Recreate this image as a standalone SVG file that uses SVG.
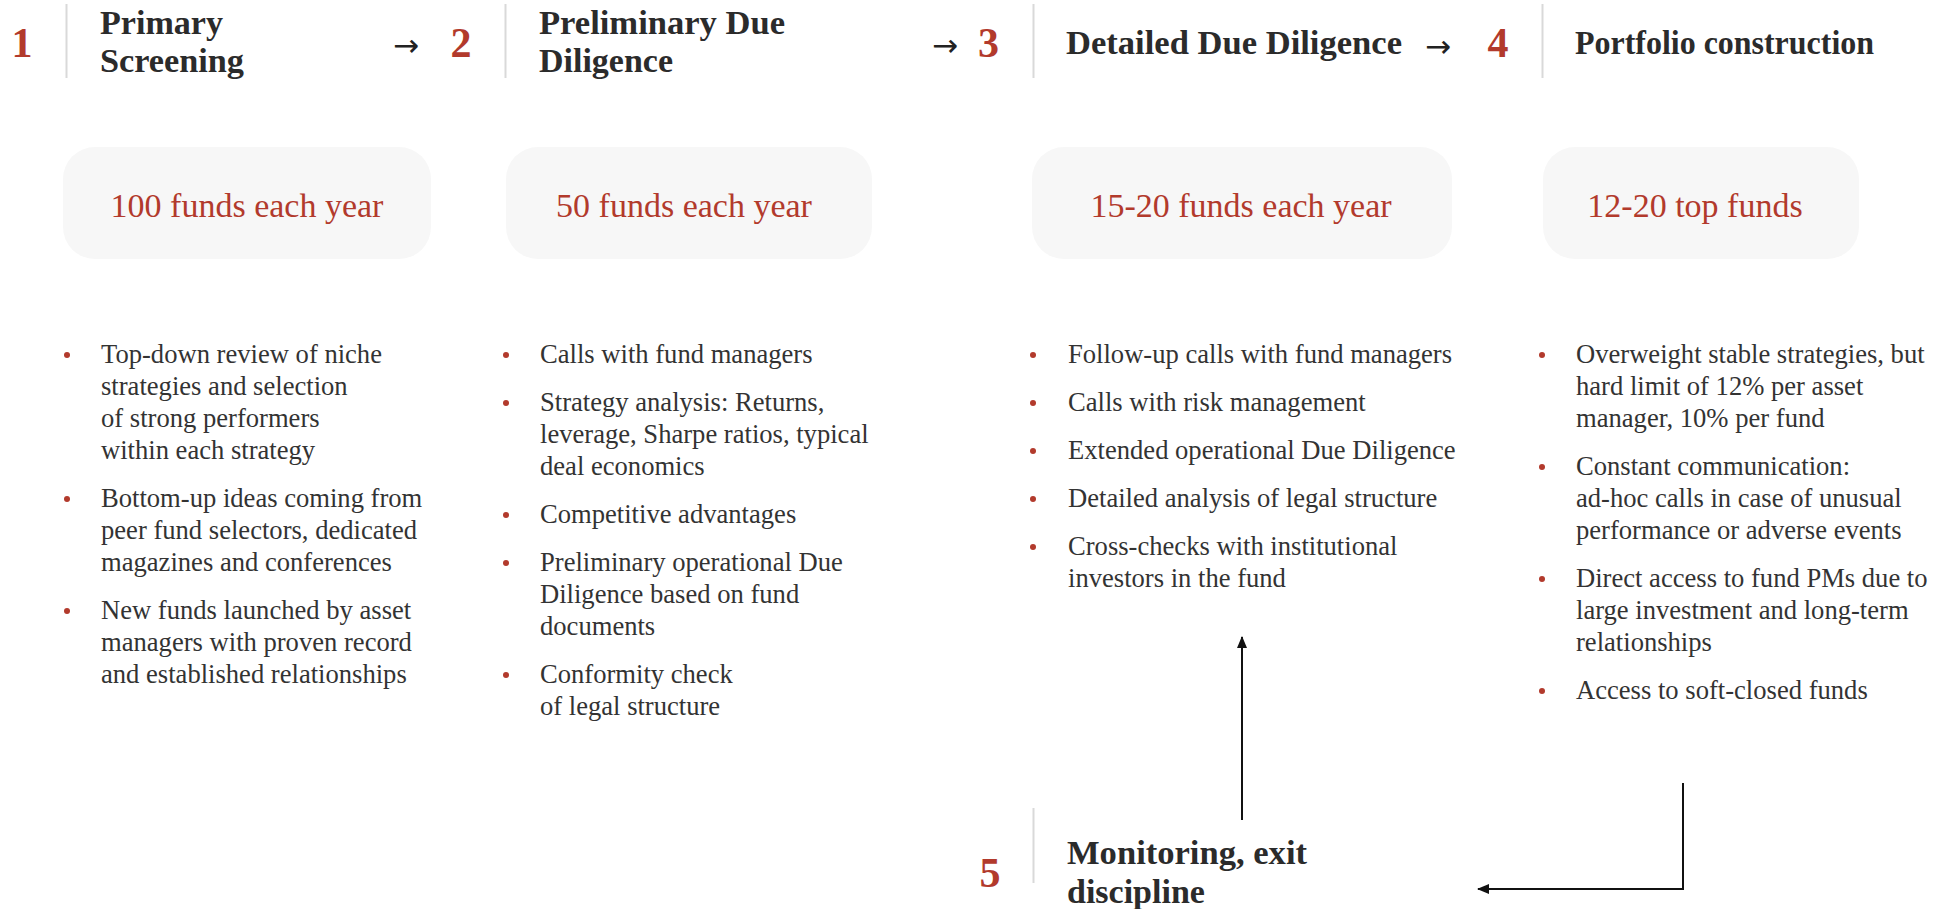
<svg xmlns="http://www.w3.org/2000/svg" width="1951" height="909" viewBox="0 0 1951 909">
<defs>
<style>
.num{font-family:"Liberation Serif","Times New Roman",serif;font-weight:bold;font-size:42px;fill:#b23a2c;text-anchor:middle}
.hd{font-family:"Liberation Serif","Times New Roman",serif;font-weight:bold;font-size:34px;fill:#2b2b2b}
.arr{font-family:"DejaVu Sans",sans-serif;font-size:31px;fill:#222;text-anchor:middle}
.sep{stroke:#d9d9d9;stroke-width:2}
.box{fill:#f7f7f7}
.bt{font-family:"Liberation Serif","Times New Roman",serif;font-size:34px;fill:#b23a2c;text-anchor:middle}
.tx{font-family:"Liberation Serif","Times New Roman",serif;font-size:26.6px;fill:#333}
.dot{fill:#b23a2c}
.con{stroke:#111;stroke-width:2;fill:none}
</style>
<marker id="ah" markerUnits="userSpaceOnUse" markerWidth="12" markerHeight="10" refX="11" refY="5" orient="auto">
<path d="M0,0 L12,5 L0,10 z" fill="#111"/>
</marker>
</defs>
<rect width="1951" height="909" fill="#fff"/>

<g id="step1">
<text class="num" x="22" y="57">1</text>
<line class="sep" x1="66.5" y1="4" x2="66.5" y2="78"/>
<text class="hd" x="100" y="34" textLength="123" lengthAdjust="spacingAndGlyphs">Primary</text>
<text class="hd" x="100" y="72" textLength="144" lengthAdjust="spacingAndGlyphs">Screening</text>
<text class="arr" x="406" y="56">→</text>
</g>
<g id="step2">
<text class="num" x="461" y="57">2</text>
<line class="sep" x1="505.5" y1="4" x2="505.5" y2="78"/>
<text class="hd" x="539" y="34" textLength="246" lengthAdjust="spacingAndGlyphs">Preliminary Due</text>
<text class="hd" x="539" y="72" textLength="134" lengthAdjust="spacingAndGlyphs">Diligence</text>
<text class="arr" x="945" y="56">→</text>
</g>
<g id="step3">
<text class="num" x="988.5" y="57">3</text>
<line class="sep" x1="1033.5" y1="4" x2="1033.5" y2="78"/>
<text class="hd" x="1066" y="54" textLength="336" lengthAdjust="spacingAndGlyphs">Detailed Due Diligence</text>
<text class="arr" x="1438" y="57">→</text>
</g>
<g id="step4">
<text class="num" x="1498" y="57">4</text>
<line class="sep" x1="1542.5" y1="4" x2="1542.5" y2="78"/>
<text class="hd" x="1575" y="54" textLength="299" lengthAdjust="spacingAndGlyphs">Portfolio construction</text>
</g>

<g id="box1">
<rect class="box" x="63" y="147" width="368" height="112" rx="32"/>
<text class="bt" x="247" y="217">100 funds each year</text>
</g>
<g id="box2">
<rect class="box" x="506" y="147" width="366" height="112" rx="32"/>
<text class="bt" x="684" y="217">50 funds each year</text>
</g>
<g id="box3">
<rect class="box" x="1032" y="147" width="420" height="112" rx="32"/>
<text class="bt" x="1241" y="217">15-20 funds each year</text>
</g>
<g id="box4">
<rect class="box" x="1543" y="147" width="316" height="112" rx="32"/>
<text class="bt" x="1695" y="217">12-20 top funds</text>
</g>

<g id="list1">
<circle class="dot" cx="67" cy="355" r="3"/>
<circle class="dot" cx="67" cy="499" r="3"/>
<circle class="dot" cx="67" cy="611" r="3"/>
<text class="tx" x="101" y="363">Top-down review of niche</text>
<text class="tx" x="101" y="395">strategies and selection</text>
<text class="tx" x="101" y="427">of strong performers</text>
<text class="tx" x="101" y="459">within each strategy</text>
<text class="tx" x="101" y="507">Bottom-up ideas coming from</text>
<text class="tx" x="101" y="539">peer fund selectors, dedicated</text>
<text class="tx" x="101" y="571">magazines and conferences</text>
<text class="tx" x="101" y="619">New funds launched by asset</text>
<text class="tx" x="101" y="651">managers with proven record</text>
<text class="tx" x="101" y="683">and established relationships</text>
</g>

<g id="list2">
<circle class="dot" cx="506" cy="355" r="3"/>
<circle class="dot" cx="506" cy="403" r="3"/>
<circle class="dot" cx="506" cy="515" r="3"/>
<circle class="dot" cx="506" cy="563" r="3"/>
<circle class="dot" cx="506" cy="675" r="3"/>
<text class="tx" x="540" y="363">Calls with fund managers</text>
<text class="tx" x="540" y="411">Strategy analysis: Returns,</text>
<text class="tx" x="540" y="443">leverage, Sharpe ratios, typical</text>
<text class="tx" x="540" y="475">deal economics</text>
<text class="tx" x="540" y="523">Competitive advantages</text>
<text class="tx" x="540" y="571">Preliminary operational Due</text>
<text class="tx" x="540" y="603">Diligence based on fund</text>
<text class="tx" x="540" y="635">documents</text>
<text class="tx" x="540" y="683">Conformity check</text>
<text class="tx" x="540" y="715">of legal structure</text>
</g>

<g id="list3">
<circle class="dot" cx="1033" cy="355" r="3"/>
<circle class="dot" cx="1033" cy="403" r="3"/>
<circle class="dot" cx="1033" cy="451" r="3"/>
<circle class="dot" cx="1033" cy="499" r="3"/>
<circle class="dot" cx="1033" cy="547" r="3"/>
<text class="tx" x="1068" y="363">Follow-up calls with fund managers</text>
<text class="tx" x="1068" y="411">Calls with risk management</text>
<text class="tx" x="1068" y="459">Extended operational Due Diligence</text>
<text class="tx" x="1068" y="507">Detailed analysis of legal structure</text>
<text class="tx" x="1068" y="555">Cross-checks with institutional</text>
<text class="tx" x="1068" y="587">investors in the fund</text>
</g>

<g id="list4">
<circle class="dot" cx="1542" cy="355" r="3"/>
<circle class="dot" cx="1542" cy="467" r="3"/>
<circle class="dot" cx="1542" cy="579" r="3"/>
<circle class="dot" cx="1542" cy="691" r="3"/>
<text class="tx" x="1576" y="363">Overweight stable strategies, but</text>
<text class="tx" x="1576" y="395">hard limit of 12% per asset</text>
<text class="tx" x="1576" y="427">manager, 10% per fund</text>
<text class="tx" x="1576" y="475">Constant communication:</text>
<text class="tx" x="1576" y="507">ad-hoc calls in case of unusual</text>
<text class="tx" x="1576" y="539">performance or adverse events</text>
<text class="tx" x="1576" y="587">Direct access to fund PMs due to</text>
<text class="tx" x="1576" y="619">large investment and long-term</text>
<text class="tx" x="1576" y="651">relationships</text>
<text class="tx" x="1576" y="699">Access to soft-closed funds</text>
</g>

<g id="step5">
<text class="num" x="990" y="887">5</text>
<line class="sep" x1="1033.5" y1="808" x2="1033.5" y2="883"/>
<text class="hd" x="1067" y="864" textLength="240" lengthAdjust="spacingAndGlyphs">Monitoring, exit</text>
<text class="hd" x="1067" y="903">discipline</text>
</g>

<g id="connectors">
<line class="con" x1="1242" y1="820" x2="1242" y2="637" marker-end="url(#ah)"/>
<path class="con" d="M1683,783 V889 H1478" marker-end="url(#ah)"/>
</g>
</svg>
